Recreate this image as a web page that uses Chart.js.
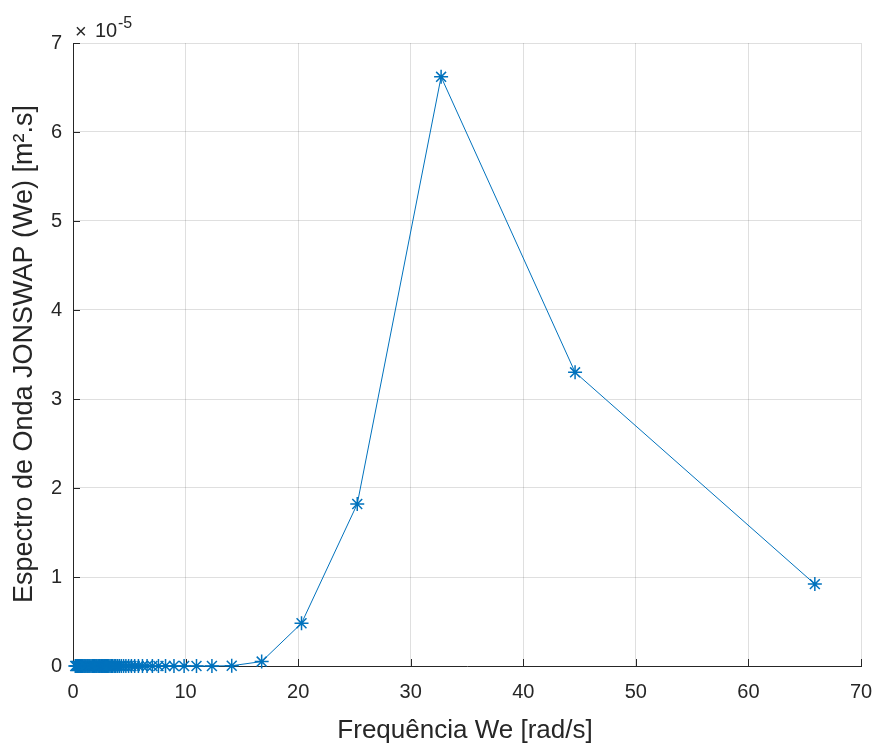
<!DOCTYPE html>
<html>
<head>
<meta charset="utf-8">
<title>Espectro JONSWAP</title>
<script src="https://cdn.jsdelivr.net/npm/chart.js@4.4.1/dist/chart.umd.min.js"></script>
<style>
  html, body { margin: 0; padding: 0; background: #fff; }
  canvas { display: block; }
</style>
</head>
<body>
<canvas id="grafico-jonswap" width="877" height="745"></canvas>
<script>
// Frecuencias We [rad/s]
const frequencias = [
  0.20, 0.28, 0.35, 0.42, 0.50, 0.58, 0.66, 0.74, 0.82, 0.90,
  0.99, 1.07, 1.15, 1.24, 1.32, 1.41, 1.50, 1.60, 1.70, 1.76,
  1.83, 1.90, 1.97, 2.06, 2.14, 2.24, 2.35, 2.47, 2.53, 2.60,
  2.67, 2.74, 2.82, 2.90, 2.99, 3.08, 3.18, 3.29, 3.40, 3.52,
  3.66, 3.80, 3.95, 4.11, 4.29, 4.49, 4.70, 4.94, 5.19, 5.48,
  5.81, 6.17, 6.58, 7.05, 7.59, 8.22, 8.97, 9.87, 10.97, 12.34,
  14.10, 16.76, 20.30, 25.25, 32.70, 44.60, 65.90
];

// Espectro de onda [m².s]
const espectro = [
  0, 0, 0, 0, 0, 0, 0, 0, 0, 0,
  0, 0, 0, 0, 0, 0, 0, 0, 0, 0,
  0, 0, 0, 0, 0, 0, 0, 0, 0, 0,
  0, 0, 0, 0, 0, 0, 0, 0, 0, 0,
  0, 0, 0, 0, 0, 0, 0, 0, 0, 0,
  0, 0, 0, 0, 0, 0, 0, 0, 0, 0,
  0.003e-5, 0.05e-5, 0.48e-5, 1.82e-5, 6.62e-5, 3.30e-5, 0.92e-5
];

const ticksX = [0, 10, 20, 30, 40, 50, 60, 70];
const ticksY = [0, 1e-5, 2e-5, 3e-5, 4e-5, 5e-5, 6e-5, 7e-5];

const fuente = "'Liberation Sans', Arial, Helvetica, sans-serif";
const colorTexto = '#262626';

// ticks hacia adentro + titulos + exponente (estilo matlab)
const estiloMatlab = {
  id: 'estiloMatlab',
  beforeDatasetsDraw(chart) {
    const { ctx, chartArea, scales } = chart;
    ctx.save();
    ctx.strokeStyle = colorTexto;
    ctx.lineWidth = 1;
    ctx.beginPath();
    ticksX.forEach(v => {
      const px = Math.round(scales.x.getPixelForValue(v)) + 0.5;
      ctx.moveTo(px, chartArea.bottom);
      ctx.lineTo(px, chartArea.bottom - 7);
    });
    ticksY.forEach(v => {
      const py = Math.round(scales.y.getPixelForValue(v)) + 0.5;
      ctx.moveTo(chartArea.left, py);
      ctx.lineTo(chartArea.left + 7, py);
    });
    ctx.stroke();
    ctx.restore();
  },
  afterDraw(chart) {
    const { ctx, chartArea } = chart;
    ctx.save();
    ctx.fillStyle = colorTexto;

    // titulo eje x
    ctx.font = '26px ' + fuente;
    ctx.textAlign = 'center';
    ctx.textBaseline = 'alphabetic';
    ctx.fillText('Frequência We [rad/s]', (chartArea.left + chartArea.right) / 2 - 2, 738);

    // titulo eje y
    ctx.save();
    ctx.font = '27px ' + fuente;
    ctx.translate(32, 354);
    ctx.rotate(-Math.PI / 2);
    ctx.fillText('Espectro de Onda JONSWAP (We) [m².s]', 0, 0);
    ctx.restore();

    // multiplicador x10^-5
    ctx.textAlign = 'left';
    ctx.font = '20px ' + fuente;
    ctx.fillText('×', 75, 38);
    ctx.fillText('10', 95, 37);
    ctx.font = '16px ' + fuente;
    ctx.fillText('-5', 118, 28);
    ctx.restore();
  }
};

const ctx = document.getElementById('grafico-jonswap').getContext('2d');

const grafico = new Chart(ctx, {
  type: 'line',
  data: {
    datasets: [{
      label: 'JONSWAP',
      data: frequencias.map((f, i) => ({ x: f, y: espectro[i] })),
      borderColor: '#0072BD',
      borderWidth: 1,
      pointStyle: 'star',
      pointRadius: 7,
      pointBorderWidth: 1.5,
      pointBorderColor: '#0072BD',
      pointBackgroundColor: '#0072BD',
      tension: 0,
      fill: false,
      clip: false
    }]
  },
  options: {
    responsive: false,
    animation: false,
    layout: { padding: { top: 43, right: 16, left: 0, bottom: 0 } },
    plugins: {
      legend: { display: false },
      tooltip: { enabled: false }
    },
    scales: {
      x: {
        type: 'linear',
        min: 0,
        max: 70,
        afterFit: s => { s.height = 79; s.paddingLeft = 0; s.paddingRight = 0; },
        afterBuildTicks: s => { s.ticks = ticksX.map(v => ({ value: v })); },
        grid: { color: 'rgba(38,38,38,0.15)', drawTicks: false },
        border: { color: colorTexto, width: 1 },
        ticks: {
          color: colorTexto,
          padding: 14,
          maxRotation: 0,
          font: { family: fuente, size: 20 }
        }
      },
      y: {
        type: 'linear',
        min: 0,
        max: 7e-5,
        afterFit: s => { s.width = 73; s.paddingTop = 0; s.paddingBottom = 0; },
        afterBuildTicks: s => { s.ticks = ticksY.map(v => ({ value: v })); },
        grid: { color: 'rgba(38,38,38,0.15)', drawTicks: false },
        border: { color: colorTexto, width: 1 },
        ticks: {
          color: colorTexto,
          padding: 11,
          font: { family: fuente, size: 20 },
          callback: v => String(Math.round(v * 1e5))
        }
      }
    }
  },
  plugins: [estiloMatlab]
});
</script>
</body>
</html>
